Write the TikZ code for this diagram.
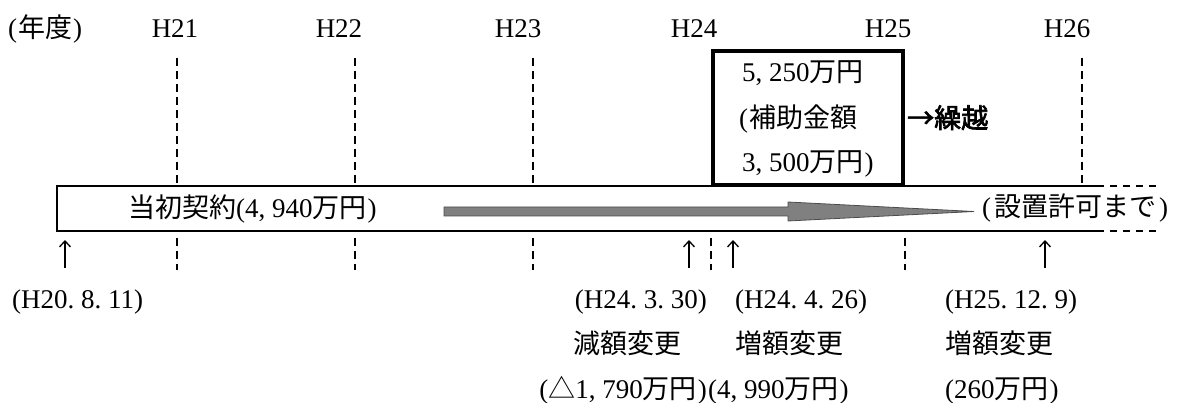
\documentclass[tikz,border=0pt]{standalone}
\usepackage{fontspec}
\setmainfont{Liberation Serif}
\newfontfamily\jpf{Noto Sans CJK JP}
\newfontfamily\jpb{Noto Sans CJK JP}[FakeBold=2.5]
\usetikzlibrary{arrows.meta}
\newcommand\hcm{,\kern.25em}
\newcommand\hdt{.\kern.25em}
\begin{document}
\begin{tikzpicture}[x=1pt,y=-1pt,
  font=\fontsize{27}{32}\selectfont,
  lbl/.style={inner sep=0pt,text height=23.5pt,text depth=3.5pt},
  gridline/.style={line width=1.6pt,dash pattern=on 8pt off 5pt},
  openend/.style={line width=1.8pt,dash pattern=on 7pt off 6pt},
  barline/.style={line width=1.8pt},
  boxline/.style={line width=3.5pt},
  uparrow/.style={line width=1.3pt,-{Straight Barb[length=6pt,width=11pt,line width=1.3pt]}},
  grayarrow/.style={fill=black!50,draw=black!70,line width=0.8pt}]
\useasboundingbox (0,0) rectangle (1197,403);
% year grid lines above the bar
\foreach \x in {177,355,533,1082} \draw[gridline] (\x,58) -- (\x,186);
% year grid lines below the bar
\foreach \x in {177,355,533,711,905} \draw[gridline] (\x,238) -- (\x,270);
% contract bar
\draw[barline] (1097,186) -- (57,186) -- (57,231) -- (1097,231);
\draw[openend] (1097,186) -- (1158,186);
\draw[openend] (1097,231) -- (1158,231);
% gray arrow
\draw[grayarrow] (444,207) -- (788,207) -- (788,202) -- (974,211.5) -- (788,221) -- (788,216) -- (444,216) -- cycle;
% subsidy box
\draw[boxline,fill=white] (713,51) rectangle (903,185);
% top labels
\node[lbl,anchor=west] (nendo) at (8,28) {(\kern1pt{\jpf 年度}\kern1pt)};
\node[lbl] (h21) at (175,28) {H21};
\node[lbl] (h22) at (339,28) {H22};
\node[lbl] (h23) at (518,28) {H23};
\node[lbl] (h24) at (694,28) {H24};
\node[lbl] (h25) at (888,28) {H25};
\node[lbl] (h26) at (1067,28) {H26};
% box text
\node[lbl,anchor=west] (b1) at (742,72) {5\hcm 250{\jpf 万円}};
\node[lbl,anchor=west] (b2) at (737,118) {\kern2pt(\kern1pt{\jpf 補助金額}};
\node[lbl,anchor=west] (b3) at (742,162) {3\hcm 500{\jpf 万円}\kern1pt)};
\node[lbl,anchor=west] (kuri) at (907,118) {\jpb →繰越};
% bar text
\node[lbl,anchor=west] (init) at (128,208) {{\jpf 当初契約}(4\hcm 940{\jpf 万円}\kern1pt)};
\node[lbl,anchor=west] (until) at (982,207) {(\kern3pt{\jpf 設置許可まで}\kern3pt)};
% bottom labels
\node[lbl,anchor=west] (d1) at (12,299) {(H20\hdt 8\hdt 11)};
\node[lbl,anchor=east] (d2) at (707,299) {(H24\hdt 3\hdt 30)};
\node[lbl,anchor=west] (d3) at (735,299) {(H24\hdt 4\hdt 26)};
\node[lbl,anchor=west] (d4) at (945,299) {(H25\hdt 12\hdt 9)};
\node[lbl,anchor=west] (c2) at (573,344) {\jpf 減額変更};
\node[lbl,anchor=west] (c3) at (735,344) {\jpf 増額変更};
\node[lbl,anchor=west] (c4) at (945,344) {\jpf 増額変更};
\node[lbl,anchor=east] (m2) at (707,388) {({\jpf △}1\hcm 790{\jpf 万円}\kern1pt)};
\node[lbl,anchor=west] (m3) at (708,388) {(4\hcm 990{\jpf 万円}\kern1pt)};
\node[lbl,anchor=west] (m4) at (945,388) {(260{\jpf 万円}\kern1pt)};
% date arrows
\foreach \n/\x in {a1/65,a2/689,a3/733,a4/1045}{
  \coordinate (\n s) at (\x,268);
  \coordinate (\n e) at (\x,240);
  \draw[uparrow] (\n s) -- (\n e);
}
\end{tikzpicture}
\end{document}
